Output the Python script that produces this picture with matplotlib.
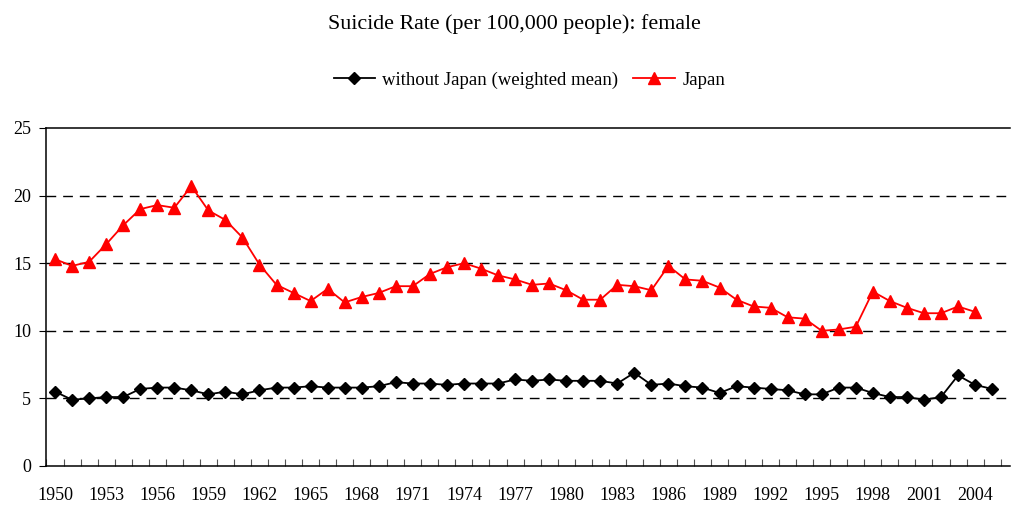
import numpy as np
import matplotlib
matplotlib.use("Agg")
import matplotlib.pyplot as plt

plt.rcParams['font.family'] = ['Liberation Serif', 'DejaVu Serif']

# DATOS
years = list(range(1950, 2006))
other = [5.5, 4.9, 5.0, 5.1, 5.1, 5.7, 5.8, 5.8, 5.6, 5.3,
         5.5, 5.3, 5.6, 5.8, 5.8, 5.9, 5.8, 5.8, 5.8, 5.9,
         6.2, 6.1, 6.1, 6.0, 6.1, 6.1, 6.1, 6.4, 6.3, 6.4,
         6.3, 6.3, 6.3, 6.1, 6.9, 6.0, 6.1, 5.9, 5.8, 5.4,
         5.9, 5.8, 5.7, 5.6, 5.3, 5.3, 5.8, 5.8, 5.4, 5.1,
         5.1, 4.9, 5.1, 6.7, 6.0, 5.7]
japan = [15.3, 14.8, 15.1, 16.4, 17.8, 19.0, 19.3, 19.1, 20.7, 18.9,
         18.2, 16.9, 14.9, 13.4, 12.8, 12.2, 13.1, 12.1, 12.5, 12.8,
         13.3, 13.3, 14.2, 14.7, 15.0, 14.6, 14.1, 13.8, 13.4, 13.5,
         13.0, 12.3, 12.3, 13.4, 13.3, 13.0, 14.8, 13.8, 13.7, 13.2,
         12.3, 11.8, 11.7, 11.0, 10.9, 10.0, 10.1, 10.3, 12.9, 12.2,
         11.7, 11.3, 11.3, 11.8, 11.4]
label_other = 'without Japan (weighted mean)'
label_japan = 'Japan'
title = 'Suicide Rate (per 100,000 people): female'
yticks = [0, 5, 10, 15, 20, 25]
#----------------------------------------
# FIGURA
fig = plt.figure(figsize=(10.12, 5.12), dpi=100)
ax = fig.add_axes([46.5/1012, 1 - 466/512, 963.5/1012, 338/512])

x_o = np.arange(len(other))
x_j = np.arange(len(japan))
ax.plot(x_o, other, color='black', lw=1.3, marker='D', ms=6.5,
        label=label_other)
ax.plot(x_j, japan, color='red', lw=1.3, marker='^', ms=9,
        label=label_japan)

ax.set_ylim(0, 25)
ax.set_xlim(-0.5, 56.05)
ax.set_yticks(yticks)
for v in yticks[1:-1]:
    ax.axhline(v, color='black', lw=1, ls=(0, (7, 5)), zorder=0)

# ejes estilo excel
ax.spines['right'].set_visible(False)
for s in ['left', 'bottom', 'top']:
    ax.spines[s].set_linewidth(1.1)
ax.tick_params(axis='y', direction='out', length=5, labelsize=13, pad=6)
ax.set_xticks(np.arange(-0.5, 56.5, 1), minor=True)
ax.set_xticks(x_o[::3])
ax.set_xticklabels([str(y) for y in years[::3]])
ax.tick_params(axis='x', which='major', length=0, labelsize=13, pad=15)
ax.tick_params(axis='x', which='minor', direction='in', length=5, width=0.8,
               color='#555555')

fig.text(0.508, 1 - 24/512, title, ha='center', va='center', fontsize=15.8)
fig.legend(loc='center', bbox_to_anchor=(0.523, 1 - 80/512), ncol=2,
           frameon=False, fontsize=13.5, handlelength=2.2,
           columnspacing=0.8, handletextpad=0.4)

fig.savefig('out.png', dpi=100)
